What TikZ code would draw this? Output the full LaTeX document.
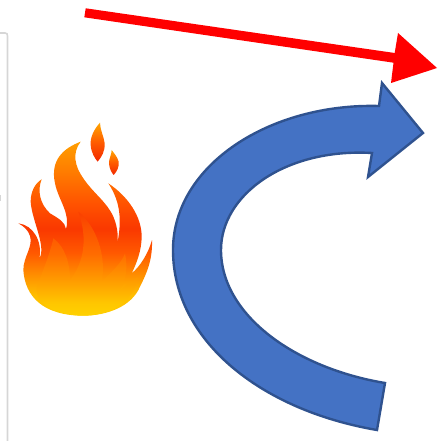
\documentclass[tikz,border=0pt]{standalone}
\definecolor{arrowblue}{RGB}{68,114,196}
\definecolor{arrowedge}{RGB}{47,82,143}
\definecolor{pagegray}{RGB}{214,214,214}
\pgfdeclareverticalshading{flamebase}{100bp}{
 rgb(0bp)=(1,.80,0);
 rgb(25bp)=(1,.80,0);
 rgb(31bp)=(1,.74,0);
 rgb(37bp)=(1,.55,0);
 rgb(43bp)=(1,.35,0);
 rgb(50bp)=(.98,.22,0);
 rgb(57bp)=(1,.32,0);
 rgb(66bp)=(1,.48,0);
 rgb(75bp)=(1,.62,0);
 rgb(100bp)=(1,.62,0)}
\pgfdeclareverticalshading{flameinner}{100bp}{
 rgb(0bp)=(1,.82,0);
 rgb(25bp)=(1,.82,0);
 rgb(31bp)=(1,.78,0);
 rgb(40bp)=(1,.64,0);
 rgb(55bp)=(1,.42,0);
 rgb(75bp)=(.98,.25,0);
 rgb(100bp)=(.98,.25,0)}
\pgfdeclareverticalshading{flamedrop}{100bp}{
 rgb(0bp)=(.95,.16,0);
 rgb(25bp)=(.95,.16,0);
 rgb(50bp)=(1,.36,0);
 rgb(75bp)=(1,.65,0);
 rgb(100bp)=(1,.65,0)}
\tikzset{
 bluearrow/.style={fill=arrowblue,draw=arrowedge,line width=1.8pt,line join=miter},
 redarrow/.style={fill=red,draw=none},
 pageedge/.style={draw=pagegray,line width=1.2pt}
}
\begin{document}
\begin{tikzpicture}[x=0.75pt,y=-0.75pt]
\useasboundingbox (0,0) rectangle (437,441);
% page edge
\draw[pageedge] (0,33) -- (5,33) .. controls (7,33) and (7.5,34) .. (7.5,36) -- (7.5,441);
\fill[pagegray] (0,195) rectangle (1.2,201);
% red arrow
\fill[redarrow] (85.7,8.3) -- (394.7,53) -- (398,33) -- (437,68) -- (391,83) -- (393.5,62.7) -- (84.3,17.3) -- cycle;
% blue curved arrow
\draw[bluearrow] (379,106) -- (382,83) -- (423,133) -- (368,177) -- (372,153)
  .. controls (285,148) and (221,195) .. (221,250)
  .. controls (221,315) and (295,368) .. (385,383)
  -- (377,430)
  .. controls (260,410) and (173,340) .. (173,250)
  .. controls (173,165) and (270,103) .. (379,106) -- cycle;
% flame
\begin{scope}[shift={(0,110)},x=0.25pt,y=-0.25pt]
\shade[shading=flamebase]
  (250,617) .. controls (130,617) and (75,560) .. (70,480)
  .. controls (70,440) and (100,410) .. (90,378)
  .. controls (85,360) and (70,348) .. (55,340)
  .. controls (100,345) and (128,395) .. (118,445)
  .. controls (140,410) and (95,330) .. (92,275)
  .. controls (92,245) and (105,220) .. (125,208)
  .. controls (112,240) and (118,280) .. (150,310)
  .. controls (175,325) and (195,335) .. (198,357)
  .. controls (212,310) and (175,270) .. (165,220)
  .. controls (150,150) and (190,115) .. (242,95)
  .. controls (215,130) and (225,170) .. (250,205)
  .. controls (280,250) and (320,275) .. (340,320)
  .. controls (355,355) and (355,385) .. (350,410)
  .. controls (365,340) and (365,280) .. (325,220)
  .. controls (385,260) and (425,320) .. (425,380)
  .. controls (425,420) and (410,460) .. (395,490)
  .. controls (420,470) and (445,430) .. (456,390)
  .. controls (458,450) and (440,490) .. (420,530)
  .. controls (395,590) and (320,617) .. (250,617) -- cycle;
\shade[shading=flameinner]
  (250,617) .. controls (170,617) and (95,580) .. (112,525)
  .. controls (130,480) and (150,430) .. (160,385)
  .. controls (195,410) and (210,460) .. (210,510)
  .. controls (250,460) and (265,390) .. (235,305)
  .. controls (290,350) and (320,440) .. (305,515)
  .. controls (330,490) and (365,460) .. (375,430)
  .. controls (385,480) and (375,520) .. (360,540)
  .. controls (375,530) and (395,510) .. (415,500)
  .. controls (400,585) and (320,617) .. (250,617) -- cycle;
\shade[shading=flamedrop]
  (300,38) .. controls (280,60) and (270,85) .. (272,105)
  .. controls (274,130) and (285,145) .. (293,155)
  .. controls (305,140) and (315,125) .. (314,100)
  .. controls (312,80) and (300,60) .. (300,38) -- cycle;
\shade[shading=flamedrop]
  (335,120) .. controls (335,135) and (326,145) .. (327,162)
  .. controls (329,178) and (335,188) .. (341,195)
  .. controls (350,185) and (358,172) .. (356,155)
  .. controls (352,140) and (342,130) .. (335,120) -- cycle;
\end{scope}
\end{tikzpicture}
\end{document}
